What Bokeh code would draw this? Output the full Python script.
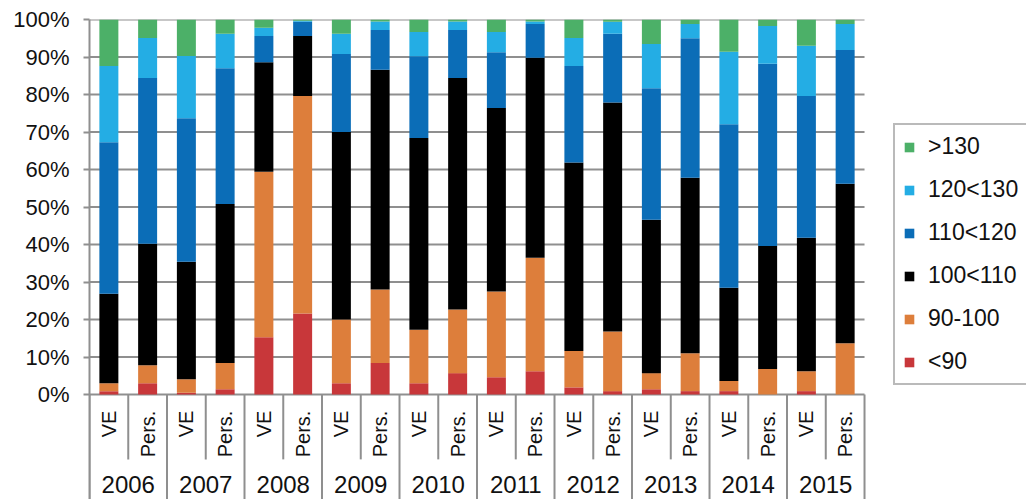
from math import pi
from bokeh.plotting import figure
from bokeh.models import (Range1d, FixedTicker, PrintfTickFormatter,
                          Legend, LegendItem, ColumnDataSource)
from bokeh.core.properties import value
from bokeh.embed import file_html
from bokeh.resources import INLINE

years = ["2006", "2007", "2008", "2009", "2010", "2011", "2012", "2013", "2014", "2015"]
subs = ["VE", "Pers."]
categories = ["<90", "90-100", "100<110", "110<120", "120<130", ">130"]
colors = ["#C8373A", "#DD7E3B", "#000000", "#0B6DB7", "#24ADE4", "#4CB068"]

# values per bar, order: 2006 VE, 2006 Pers., 2007 VE, ... 2015 Pers.
lt90 = [0.9, 3.0, 0.5, 1.4, 15.3, 21.6, 3.0, 8.4, 3.0, 5.7,
        4.6, 6.2, 1.9, 0.9, 1.4, 0.9, 0.9, 0.0, 0.9, 0.0]
r90_100 = [2.1, 4.8, 3.6, 7.0, 44.1, 58.0, 17.0, 19.6, 14.3, 17.0,
           22.9, 30.3, 9.7, 15.9, 4.3, 10.1, 2.7, 6.8, 5.3, 13.7]
r100_110 = [23.9, 32.4, 31.3, 42.4, 29.2, 16.0, 50.0, 58.6, 51.1, 61.7,
            48.9, 53.3, 50.3, 61.1, 40.9, 46.8, 24.9, 32.8, 35.6, 42.5]
r110_120 = [40.4, 44.2, 38.3, 36.2, 7.0, 3.8, 20.8, 10.6, 21.8, 12.8,
            14.9, 9.0, 25.7, 18.3, 35.1, 37.2, 43.6, 48.6, 37.8, 35.7]
r120_130 = [20.3, 10.7, 16.6, 9.2, 2.2, 0.3, 5.4, 2.3, 6.5, 2.3,
            5.4, 0.7, 7.5, 3.2, 11.8, 3.8, 19.3, 10.1, 13.4, 6.9]
gt130 = [12.4, 4.9, 9.7, 3.8, 2.2, 0.3, 3.8, 0.5, 3.3, 0.5,
         3.3, 0.5, 4.9, 0.6, 6.5, 1.2, 8.6, 1.7, 7.0, 1.2]
y_ticks = [0, 10, 20, 30, 40, 50, 60, 70, 80, 90, 100]

factors = [(y, s) for y in years for s in subs]
n = len(factors)
series = [lt90, r90_100, r100_110, r110_120, r120_130, gt130]
data = {"x": [i + 0.5 for i in range(n)], "sub": [s for _, s in factors]}
for c, v in zip(categories, series):
    data[c] = v
src = ColumnDataSource(data)

FONT = "Liberation Sans"
GRID = "#8f8f8f"
TXT = "#111111"

p = figure(x_range=Range1d(0, 24.18), y_range=Range1d(-28, 100),
           width=1026, height=499,
           output_backend="svg", toolbar_location=None, x_axis_location=None,
           min_border_left=89, min_border_right=0, min_border_top=19,
           min_border_bottom=0)
p.outline_line_color = None
p.background_fill_color = "white"
p.xgrid.visible = False
p.ygrid.visible = False

p.yaxis.ticker = FixedTicker(ticks=y_ticks)
p.yaxis.formatter = PrintfTickFormatter(format="%d%%")
p.yaxis.minor_tick_line_color = None
p.yaxis.major_tick_in = 0
p.yaxis.major_tick_out = 6
p.yaxis.major_tick_line_color = GRID
p.yaxis.major_tick_line_width = 2
p.yaxis.axis_line_color = GRID
p.yaxis.axis_line_width = 2
p.yaxis.major_label_text_font = FONT
p.yaxis.major_label_text_font_size = "22px"
p.yaxis.major_label_text_color = TXT
p.yaxis.major_label_standoff = 14

# horizontal grid lines, only across the bar area
grid_src = ColumnDataSource(dict(y=y_ticks, x0=[0] * len(y_ticks), x1=[n] * len(y_ticks)))
p.segment(x0="x0", y0="y", x1="x1", y1="y", source=grid_src,
          line_color=GRID, line_width=2, level="underlay")

rs = p.vbar_stack(categories, x="x", width=0.49, color=colors, source=src,
                  line_color=None)

# category separators below the axis
sep_x = list(range(n + 1))
sep_y1 = [-28 if i % len(subs) == 0 else -17.3 for i in sep_x]
sep_src = ColumnDataSource(dict(x=sep_x, y0=[0] * len(sep_x), y1=sep_y1))
p.segment(x0="x", y0="y0", x1="x", y1="y1", source=sep_src,
          line_color=GRID, line_width=2)

# sub-category labels (rotated)
p.text(x="x", y=-4.3, text="sub", source=src, angle=pi / 2,
       text_align="right", text_baseline="middle", text_font=value(FONT),
       text_font_size="20px", text_color=TXT)

# year labels
year_src = ColumnDataSource(dict(x=[len(subs) * i + len(subs) / 2 for i in range(len(years))],
                                 text=years))
p.text(x="x", y=-26.3, text="text", source=year_src, text_align="center",
       text_baseline="bottom", text_font=value(FONT), text_font_size="24px",
       text_color=TXT)

legend = Legend(items=[LegendItem(label=c, renderers=[r])
                       for c, r in reversed(list(zip(categories, rs)))],
                location=(804, 114), margin=0, padding=8, spacing=16,
                glyph_width=12, glyph_height=12, label_height=25,
                label_standoff=13, label_text_font=FONT,
                label_text_font_size="23px", label_text_color=TXT,
                border_line_color="#767676", border_line_width=2,
                background_fill_color="white", background_fill_alpha=1)
p.add_layout(legend, "center")

open("out.html", "w").write(file_html(p, INLINE))
